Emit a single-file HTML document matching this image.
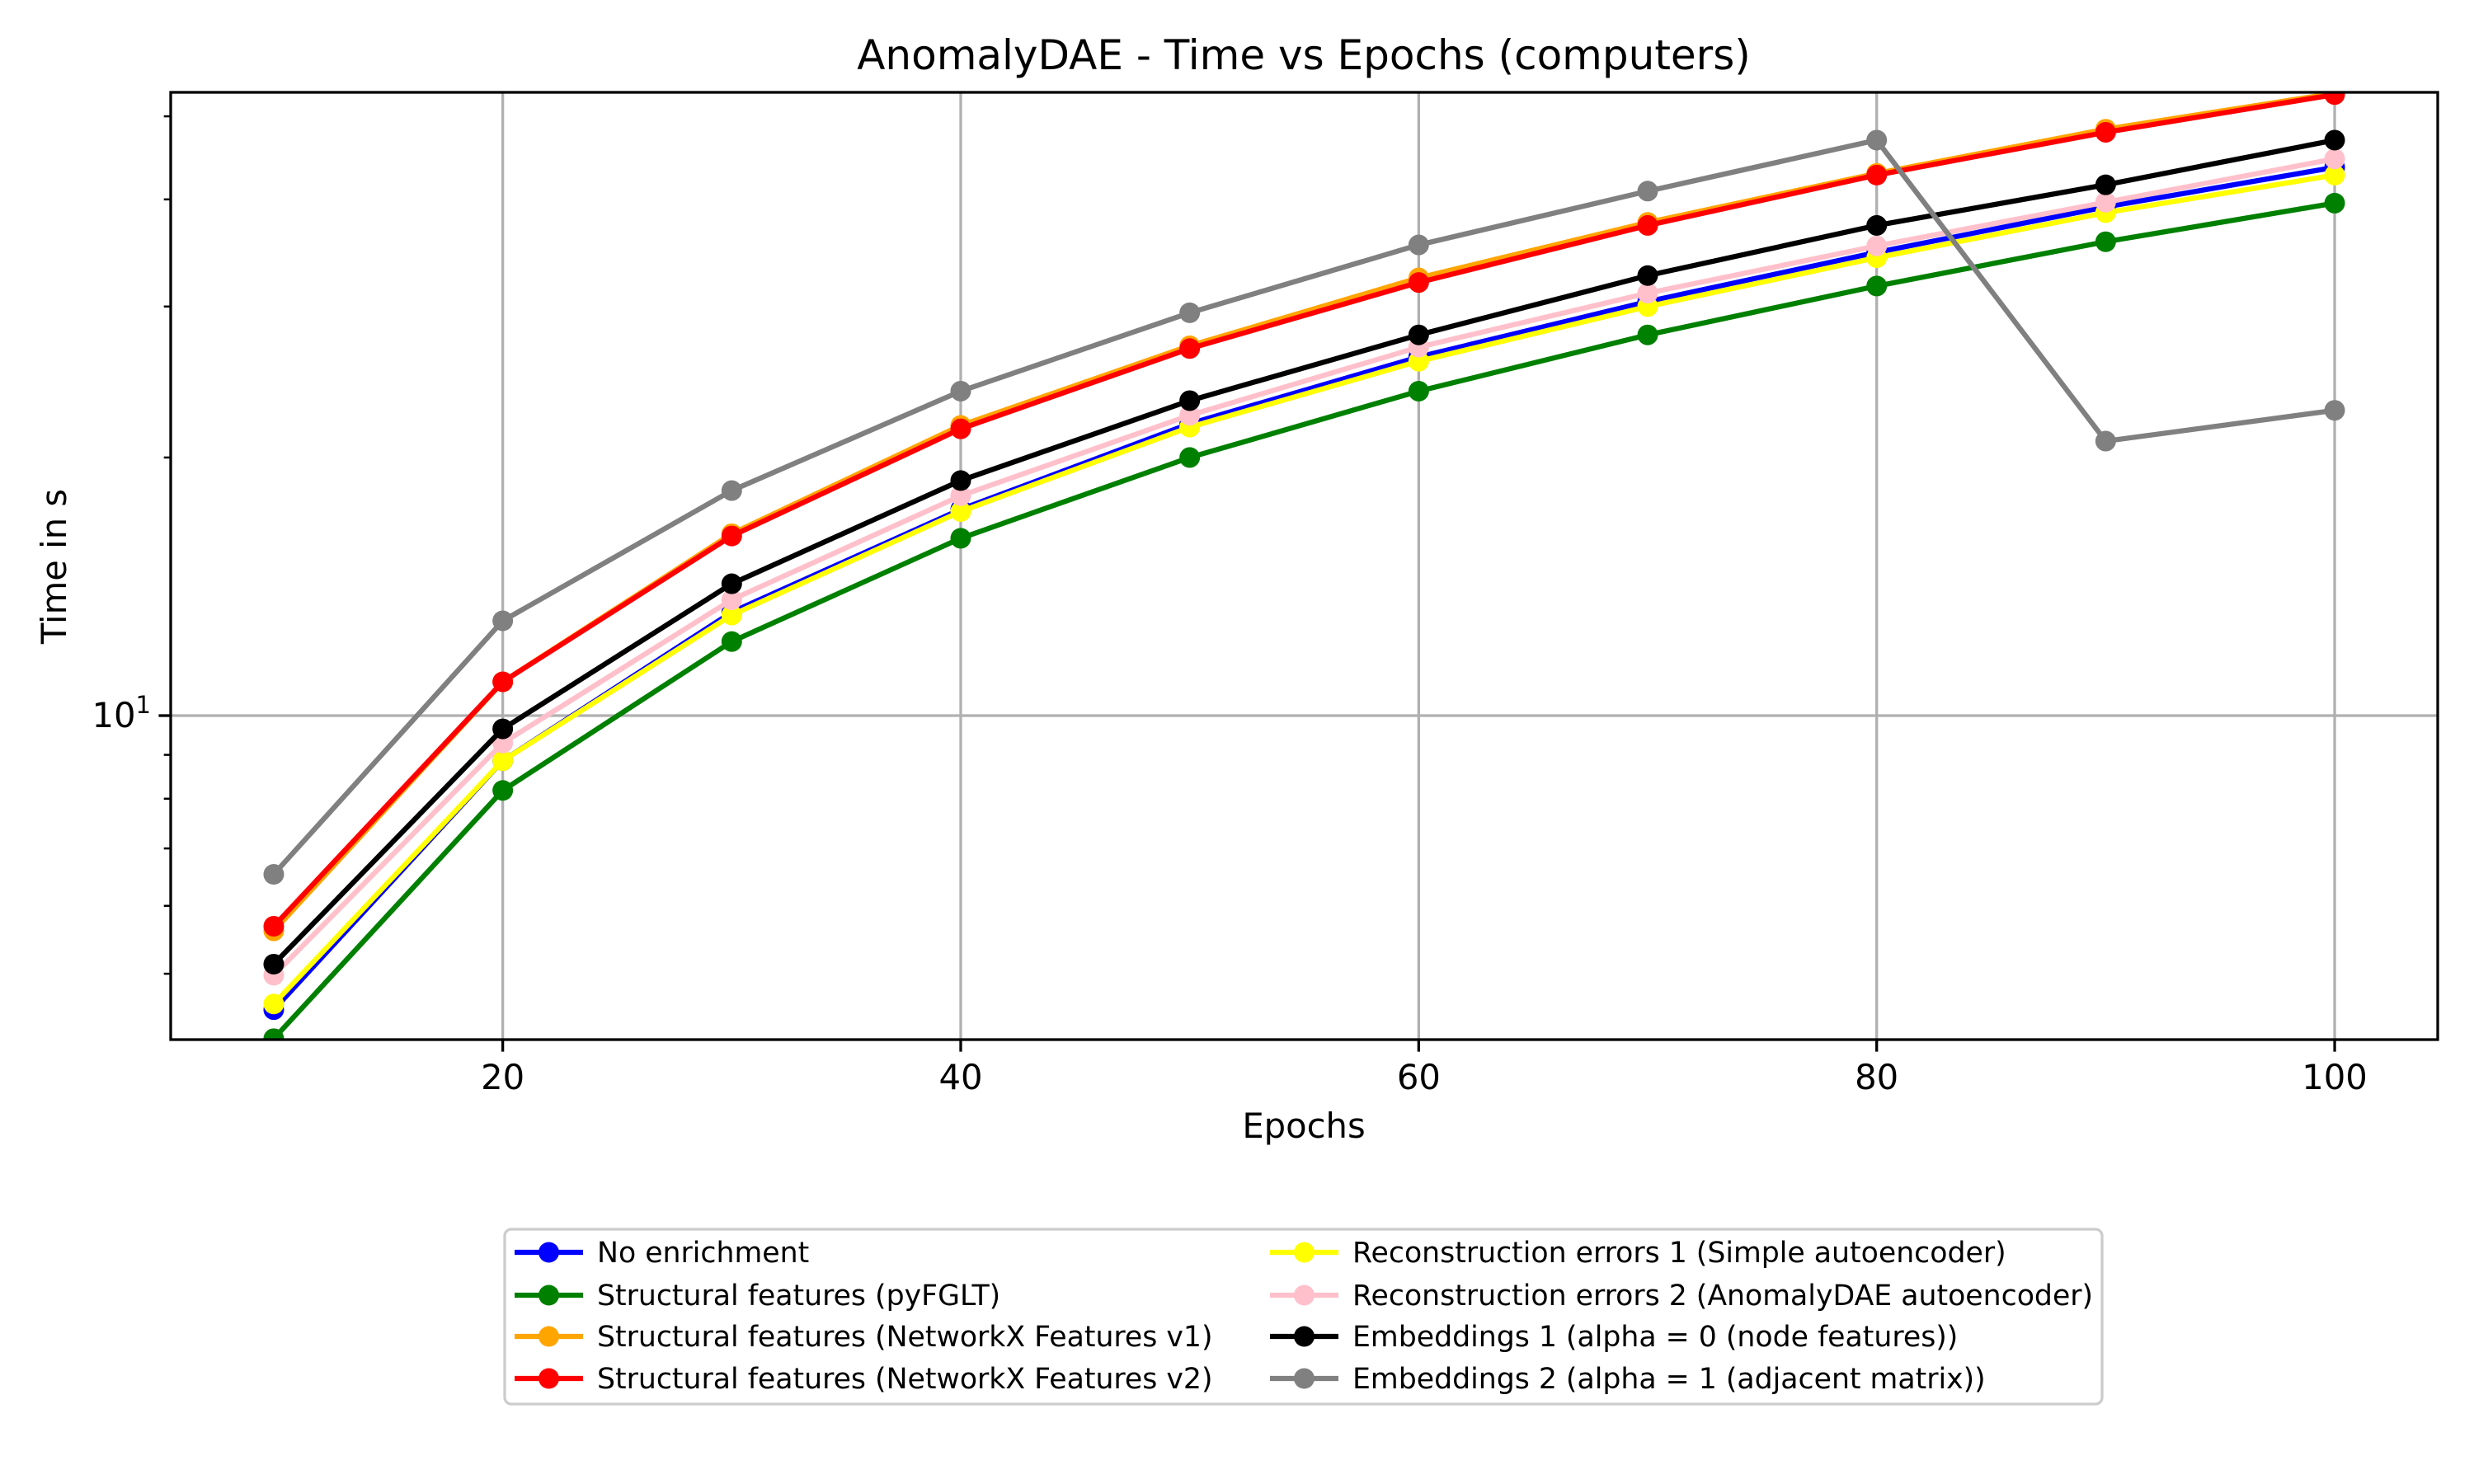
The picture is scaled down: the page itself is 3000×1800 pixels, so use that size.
<!DOCTYPE html>
<html><head><meta charset="utf-8"><style>html,body{margin:0;padding:0;background:#fff}svg{display:block}</style></head>
<body>
<svg id="chart" width="3000" height="1800" viewBox="0 0 3000 1800" xmlns="http://www.w3.org/2000/svg" font-family="DejaVu Sans, Liberation Sans, sans-serif">
<defs><clipPath id="plotclip"><rect x="207" y="112" width="2749" height="1149"/></clipPath></defs>
<rect width="3000" height="1800" fill="#fff"/>
<text x="1581" y="84" font-size="50" text-anchor="middle">AnomalyDAE - Time vs Epochs (computers)</text>
<g id="grid"></g>
<g id="series" clip-path="url(#plotclip)"></g>
<rect x="207" y="112" width="2749" height="1149" fill="none" stroke="#000" stroke-width="3.3"/>
<g id="axes"></g>
<text x="1581" y="1380" font-size="41.7" text-anchor="middle">Epochs</text>
<text x="80" y="687" font-size="41.7" text-anchor="middle" transform="rotate(-90 80 687)">Time in s</text>
<g id="legend"></g>
</svg>
<script>
const epochs = [10,20,30,40,50,60,70,80,90,100];
const seriesNames = ["No enrichment","Structural features (pyFGLT)","Structural features (NetworkX Features v1)","Structural features (NetworkX Features v2)","Reconstruction errors 1 (Simple autoencoder)","Reconstruction errors 2 (AnomalyDAE autoencoder)","Embeddings 1 (alpha = 0 (node features))","Embeddings 2 (alpha = 1 (adjacent matrix))"];
const seriesColors = ["#0000ff","#008000","#ffa500","#ff0000","#ffff00","#ffc0cb","#000000","#808080"];
const noEnrichment = [4.54,8.86,13.2,17.4,21.9,26.2,30.4,34.7,39.2,43.6];
const pyFGLT = [4.20,8.18,12.2,16.1,20.0,23.9,27.8,31.7,35.7,39.6];
const networkxV1 = [5.61,10.95,16.3,21.8,27.0,32.4,37.6,42.9,48.3,53.2];
const networkxV2 = [5.68,10.95,16.2,21.6,26.8,32.0,37.3,42.7,47.9,53.0];
const recon1 = [4.61,8.86,13.1,17.3,21.7,25.9,30.0,34.2,38.6,42.7];
const recon2 = [4.98,9.29,13.65,18.05,22.4,26.9,31.1,35.3,39.7,44.6];
const embed1 = [5.13,9.65,14.25,18.8,23.3,27.8,32.6,37.3,41.6,46.9];
const embed2 = [6.53,12.9,18.3,23.9,29.5,35.4,40.9,46.9,20.9,22.7];
const xTicks = [20,40,60,80,100];
const yMinorTicks = [5,6,7,8,9,20,30,40,50];
const allSeries = [noEnrichment,pyFGLT,networkxV1,networkxV2,recon1,recon2,embed1,embed2];

const X0=207, X1=2956, Y0=112, Y1=1261;
const xMin=5.5, xMax=104.5;
const yMin=Math.pow(10,1-(1261-868)/1040), yMax=Math.pow(10,1+(868-112)/1040);
const xs=v=>X0+(v-xMin)/(xMax-xMin)*(X1-X0);
const ys=v=>Y1-(Math.log10(v)-Math.log10(yMin))/(Math.log10(yMax)-Math.log10(yMin))*(Y1-Y0);
const NS="http://www.w3.org/2000/svg";
function mk(tag,attrs,parent){const e=document.createElementNS(NS,tag);for(const k in attrs)e.setAttribute(k,attrs[k]);parent.appendChild(e);return e;}
const grid=document.getElementById('grid'), axes=document.getElementById('axes'), ser=document.getElementById('series'), leg=document.getElementById('legend');

xTicks.forEach(t=>{
  const x=xs(t);
  const g=mk('line',{x1:x,x2:x,y1:Y0,y2:Y1,stroke:'#b0b0b0','stroke-width':3.3},grid);
  
  
  const tk=mk('line',{x1:x,x2:x,y1:Y1,y2:Y1+14.6,stroke:'#000','stroke-width':3.3},axes);
  
  
  const lb=mk('text',{x:x,y:Y1+60,'font-size':41.7,'text-anchor':'middle'},axes);
  
  
  lb.textContent=t;
});
{
  const y=ys(10);
  const g=mk('line',{x1:X0,x2:X1,y1:y,y2:y,stroke:'#b0b0b0','stroke-width':3.3},grid);
  
  
  const tk=mk('line',{x1:X0-14.6,x2:X0,y1:y,y2:y,stroke:'#000','stroke-width':3.3},axes);
  
  
  const lb=mk('text',{x:X0-24,y:y+14,'font-size':41.7,'text-anchor':'end'},axes);
  
  
  lb.innerHTML='10<tspan font-size="29" dy="-17">1</tspan>';
}
yMinorTicks.forEach(t=>{
  const y=ys(t);
  const tk=mk('line',{x1:X0-8.3,x2:X0,y1:y,y2:y,stroke:'#000','stroke-width':2.5},axes);
  
  
});

allSeries.forEach((vals,i)=>{
  const g=mk('g',{},ser);
  
  
  const pts=vals.map((v,j)=>xs(epochs[j])+','+ys(v)).join(' ');
  const pl=mk('polyline',{points:pts,fill:'none',stroke:seriesColors[i],'stroke-width':6.25,'stroke-linejoin':'round','stroke-linecap':'square'},g);
  
  
  vals.forEach((v,j)=>{
    const c=mk('circle',{cx:xs(epochs[j]),cy:ys(v),r:12.5,fill:seriesColors[i]},g);
    
    
  });
});

const box=mk('rect',{x:612,y:1491,width:1937,height:212,rx:8,fill:'#fff','fill-opacity':0.8,stroke:'#cccccc','stroke-width':3.3},leg);


const rowsY=[1519,1571,1621,1672];
seriesNames.forEach((n,i)=>{
  const col=Math.floor(i/4), row=i%4;
  const lx=col?1540:624, y=rowsY[row];
  const g=mk('g',{},leg);
  
  
  mk('line',{x1:lx,x2:lx+83,y1:y,y2:y,stroke:seriesColors[i],'stroke-width':6.25},g);
  mk('circle',{cx:lx+41.5,cy:y,r:12.5,fill:seriesColors[i]},g);
  const t=mk('text',{x:lx+100,y:y+12,'font-size':34.7},g);
  t.textContent=n;
});
</script>
</body></html>
